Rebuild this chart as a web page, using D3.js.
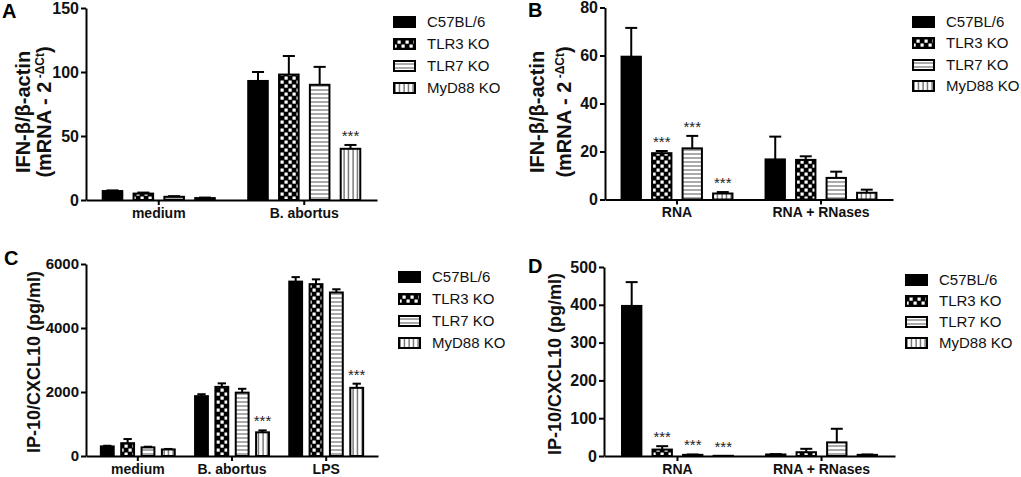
<!DOCTYPE html>
<html>
<head>
<meta charset="utf-8">
<script src="https://cdn.jsdelivr.net/npm/d3@7"></script>
<style>
  body { margin: 0; background: #fff; }
  svg { font-family: "Liberation Sans", Arial, sans-serif; }
  .axis .domain, .axis line { stroke: #000; stroke-width: 2px; }
  .axis text { fill: #111; font-weight: bold; }
</style>
</head>
<body>
<svg width="1021" height="477"></svg>
<script>
// mouse strains (legend + bar order)
var series = ["C57BL/6", "TLR3 KO", "TLR7 KO", "MyD88 KO"];

// A: IFN-beta mRNA, infection
var groupsA = ["medium", "B. abortus"];
var meanA = [[7, 5, 2.5, 1.5], [93, 98, 90, 40]];
var errA = [[0.5, 0.8, 0.5, 0.4], [7, 14.5, 14, 3]];
var sigA = [["", "", "", ""], ["", "", "", "***"]];
var ticksA = [0, 50, 100, 150];

// B: IFN-beta mRNA, RNA stimulation
var groupsB = ["RNA", "RNA + RNases"];
var meanB = [[59.5, 19.3, 21.3, 2.5], [16.7, 16.5, 9, 2.8]];
var errB = [[12, 0.9, 5.2, 0.6], [9.5, 1.5, 2.6, 1.3]];
var sigB = [["", "***", "***", "***"], ["", "", "", ""]];
var ticksB = [0, 20, 40, 60, 80];

// C: IP-10 protein, infection
var groupsC = ["medium", "B. abortus", "LPS"];
var meanC = [[300, 400, 270, 205], [1870, 2160, 1980, 740], [5450, 5370, 5110, 2130]];
var errC = [[20, 130, 20, 15], [60, 110, 120, 60], [140, 150, 100, 130]];
var sigC = [["", "", "", ""], ["", "", "", "***"], ["", "", "", "***"]];
var ticksC = [0, 2000, 4000, 6000];

// D: IP-10 protein, RNA stimulation
var groupsD = ["RNA", "RNA + RNases"];
var meanD = [[397, 17, 3, 0.5], [4, 10, 36, 3]];
var errD = [[63, 9, 1, 0], [1, 9, 36, 1]];
var sigD = [["", "***", "***", "***"], ["", "", "", ""]];
var ticksD = [0, 100, 200, 300, 400, 500];

var fills = ["#000", "url(#check)", "url(#hline)", "url(#vline)"];

var svg = d3.select("svg");
var defs = svg.append("defs");

// checkerboard
var pc = defs.append("pattern").attr("id", "check")
  .attr("patternUnits", "userSpaceOnUse").attr("width", 8).attr("height", 8);
pc.append("rect").attr("width", 8).attr("height", 8).attr("fill", "#000");
pc.append("rect").attr("x", 0.5).attr("y", 0.5).attr("width", 3.2).attr("height", 3.2).attr("fill", "#fff");
pc.append("rect").attr("x", 4.5).attr("y", 4.5).attr("width", 3.2).attr("height", 3.2).attr("fill", "#fff");

// horizontal stripes
var ph = defs.append("pattern").attr("id", "hline")
  .attr("patternUnits", "userSpaceOnUse").attr("width", 4).attr("height", 4);
ph.append("rect").attr("width", 4).attr("height", 4).attr("fill", "#fff");
ph.append("line").attr("x1", 0).attr("x2", 4).attr("y1", 2).attr("y2", 2)
  .attr("stroke", "#555").attr("stroke-width", 1);

// vertical stripes
var pv = defs.append("pattern").attr("id", "vline")
  .attr("patternUnits", "userSpaceOnUse").attr("width", 4.5).attr("height", 4);
pv.append("rect").attr("width", 4.5).attr("height", 4).attr("fill", "#fff");
pv.append("line").attr("x1", 2).attr("x2", 2).attr("y1", 0).attr("y2", 4)
  .attr("stroke", "#333").attr("stroke-width", 1);

var panels = [
  {letter: "A", lx: 2, ly: 18, groups: groupsA, mean: meanA, err: errA, sig: sigA, ticks: ticksA,
   left: 86, right: 377, top: 8, bottom: 200, pi: 0.3, po: 0.51, gpo: 0, tickFont: 16,
   label: ["IFN-\u03b2/\u03b2-actin", "(mRNA - 2"], sup: "-\u0394Ct", labFont: 20, labX: [30, 51], labY: 112,
   legX: 393, legY: [22, 44, 66, 88]},
  {letter: "B", lx: 528, ly: 17, groups: groupsB, mean: meanB, err: errB, sig: sigB, ticks: ticksB,
   left: 605, right: 893, top: 7.5, bottom: 199.5, pi: 0.3, po: 0.51, gpo: 0, tickFont: 16,
   label: ["IFN-\u03b2/\u03b2-actin", "(mRNA - 2"], sup: "-\u0394Ct", labFont: 20, labX: [544, 571], labY: 112,
   legX: 912, legY: [22, 43, 65, 86]},
  {letter: "C", lx: 4, ly: 265, groups: groupsC, mean: meanC, err: errC, sig: sigC, ticks: ticksC,
   left: 86, right: 378, top: 264, bottom: 456, pi: 0.27, po: 0.45, gpo: 0.05, tickFont: 15,
   label: ["IP-10/CXCL10 (pg/ml)"], labFont: 18, labX: [40], labY: 362,
   legX: 398, legY: [277, 299, 321, 343]},
  {letter: "D", lx: 528, ly: 273, groups: groupsD, mean: meanD, err: errD, sig: sigD, ticks: ticksD,
   left: 604, right: 895, top: 267, bottom: 456, pi: 0.3, po: 0.51, gpo: 0.01, tickFont: 16,
   label: ["IP-10/CXCL10 (pg/ml)"], labFont: 18, labX: [561], labY: 364,
   legX: 905, legY: [280, 301, 322, 343]}
];

panels.forEach(function(p) {
  var g = svg.append("g");

  var x0 = d3.scaleBand().domain(p.groups).range([p.left, p.right]).paddingOuter(p.gpo);
  var x1 = d3.scaleBand().domain(series).range([0, x0.bandwidth()])
    .paddingInner(p.pi).paddingOuter(p.po);
  var y = d3.scaleLinear().domain([0, p.ticks[p.ticks.length - 1]]).range([p.bottom, p.top]);

  var rows = [];
  p.groups.forEach(function(grp, gi) {
    series.forEach(function(s, si) {
      rows.push({group: grp, series: s, si: si, mean: p.mean[gi][si], err: p.err[gi][si], sig: p.sig[gi][si]});
    });
  });

  function cx(d) { return x0(d.group) + x1(d.series) + x1.bandwidth() / 2; }

  // error bars (upper only)
  var eb = g.append("g").selectAll("g").data(rows).enter().append("g");
  eb.append("line")
    .attr("x1", cx).attr("x2", cx)
    .attr("y1", function(d) { return y(d.mean); })
    .attr("y2", function(d) { return y(d.mean + d.err); })
    .attr("stroke", "#000").attr("stroke-width", 2);
  eb.filter(function(d) { return d.err > 0; }).append("line")
    .attr("x1", function(d) { return cx(d) - x1.bandwidth() * 0.28; })
    .attr("x2", function(d) { return cx(d) + x1.bandwidth() * 0.28; })
    .attr("y1", function(d) { return y(d.mean + d.err); })
    .attr("y2", function(d) { return y(d.mean + d.err); })
    .attr("stroke", "#000").attr("stroke-width", 2);

  // bars
  g.append("g").selectAll("rect").data(rows).enter().append("rect")
    .attr("x", function(d) { return x0(d.group) + x1(d.series) + 1; })
    .attr("width", x1.bandwidth() - 2)
    .attr("y", function(d) { return y(d.mean); })
    .attr("height", function(d) { return Math.max(0, y(0) - y(d.mean)); })
    .attr("fill", function(d) { return fills[d.si]; })
    .attr("stroke", "#000").attr("stroke-width", 2);

  // significance stars
  g.append("g").selectAll("text").data(rows.filter(function(d) { return d.sig; })).enter().append("text")
    .attr("x", cx)
    .attr("y", function(d) { return y(d.mean + d.err) - 4; })
    .attr("text-anchor", "middle")
    .attr("font-size", 15).attr("fill", "#222")
    .text(function(d) { return d.sig; });

  // axes
  g.append("g").attr("class", "axis")
    .attr("transform", "translate(" + p.left + ",0)")
    .call(d3.axisLeft(y).tickValues(p.ticks).tickFormat(d3.format("d"))
      .tickSize(5).tickSizeOuter(0).tickPadding(2))
    .selectAll("text").attr("font-size", p.tickFont);

  g.append("g").attr("class", "axis")
    .attr("transform", "translate(0," + p.bottom + ")")
    .call(d3.axisBottom(x0).tickSize(5).tickSizeOuter(0).tickPadding(3))
    .selectAll("text").attr("font-size", 14);

  // y label
  p.label.forEach(function(line, i) {
    var t = g.append("text")
      .attr("transform", "translate(" + p.labX[i] + "," + p.labY + ") rotate(-90)")
      .attr("text-anchor", "middle")
      .attr("font-size", p.labFont).attr("font-weight", "bold").attr("fill", "#111");
    t.append("tspan").text(line);
    if (i === 1 && p.sup) {
      t.append("tspan").attr("font-size", 12).attr("dy", -7).text(" " + p.sup);
      t.append("tspan").attr("dy", 7).text(")");
    }
  });

  // panel letter
  g.append("text").attr("x", p.lx).attr("y", p.ly)
    .attr("font-size", 20).attr("font-weight", "bold").text(p.letter);

  // legend
  var leg = g.append("g").selectAll("g").data(series).enter().append("g")
    .attr("transform", function(d, i) { return "translate(" + p.legX + "," + p.legY[i] + ")"; });
  leg.append("rect").attr("x", 1).attr("y", -5).attr("width", 21).attr("height", 10)
    .attr("fill", function(d, i) { return fills[i]; })
    .attr("stroke", "#000").attr("stroke-width", 2);
  leg.append("text").attr("x", 34).attr("y", 0).attr("dy", "0.35em")
    .attr("font-size", 15).attr("fill", "#111")
    .text(function(d) { return d; });
});
</script>
</body>
</html>
